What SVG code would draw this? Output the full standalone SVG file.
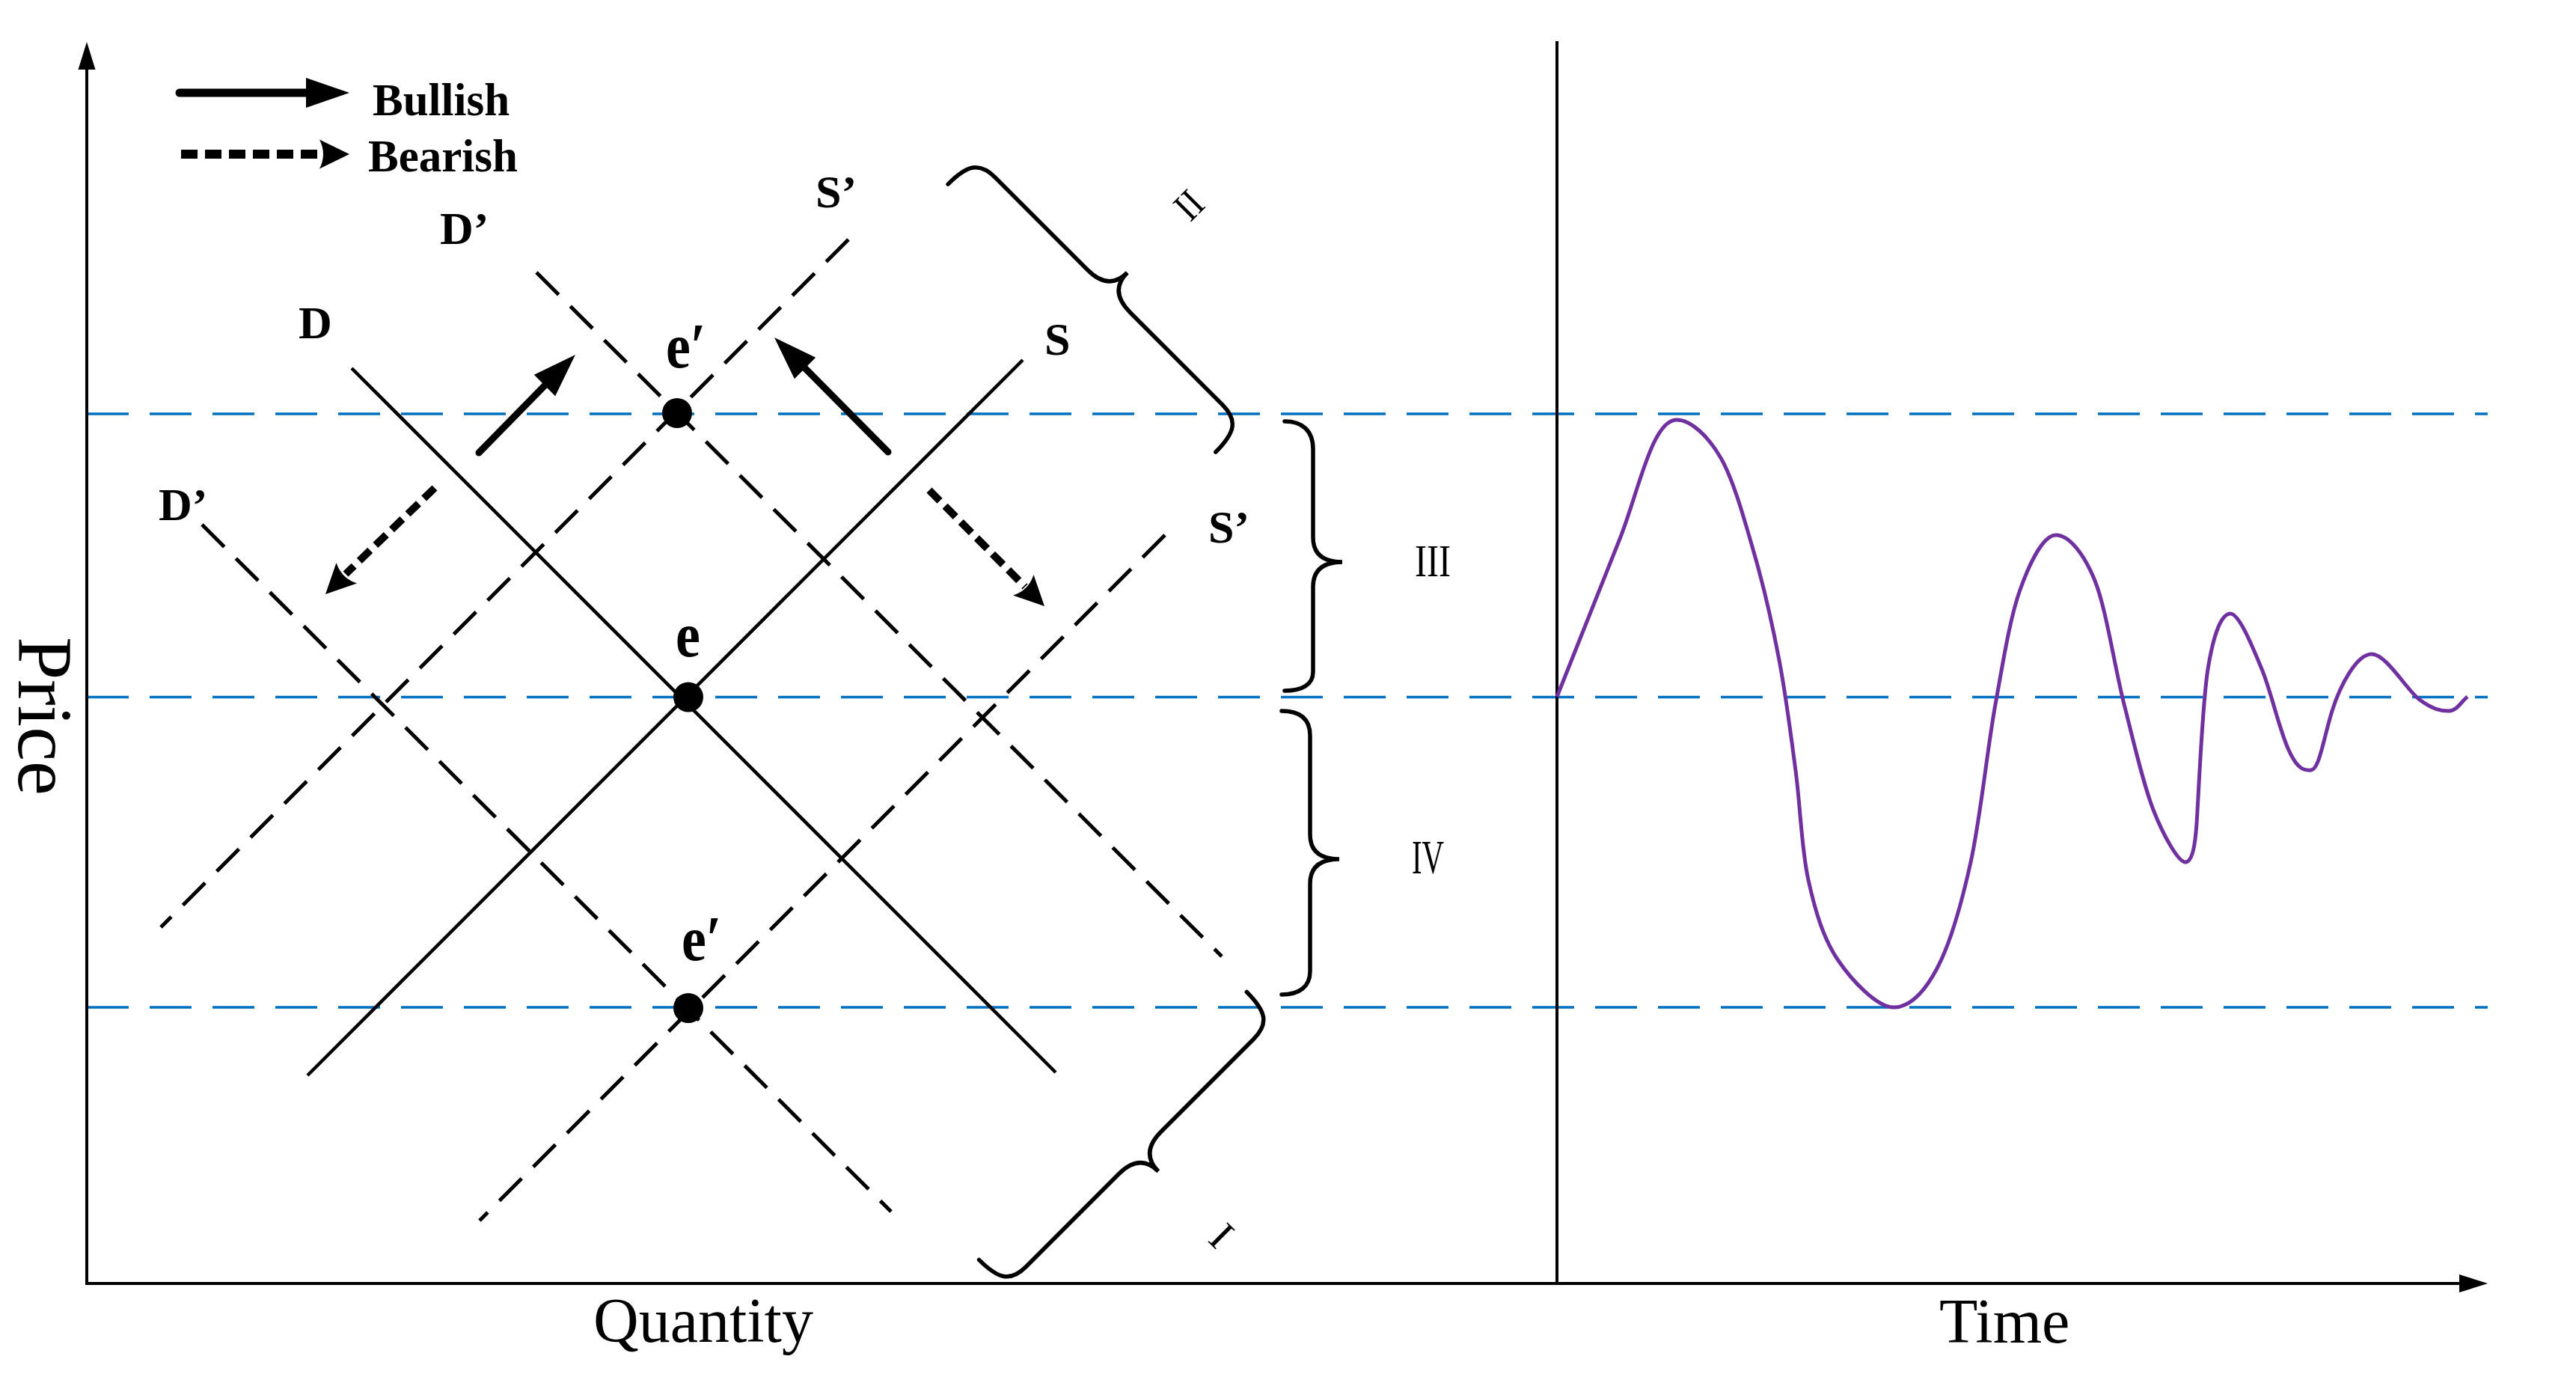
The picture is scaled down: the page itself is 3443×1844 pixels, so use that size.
<svg xmlns="http://www.w3.org/2000/svg" xmlns:xlink="http://www.w3.org/1999/xlink" width="3443" height="1844" viewBox="0 0 3443 1844">
<style>
.ax{stroke:#000;stroke-width:4;fill:none}
.blue{stroke:#0070C0;stroke-width:3.5;stroke-dasharray:56 28;fill:none}
.sol{stroke:#000;stroke-width:4.5;fill:none}
.dsh{stroke:#000;stroke-width:5;stroke-dasharray:42 22;fill:none}
.brace{stroke:#000;stroke-width:5.5;fill:none;stroke-linecap:round}
.bull{stroke:#000;stroke-width:9;fill:none;stroke-linecap:round}
.bear{stroke:#000;stroke-width:10;stroke-dasharray:20 10;fill:none}
.lbl{font-family:"Liberation Serif","Times New Roman",serif;font-weight:bold;font-size:62px;fill:#000}
.ee{font-family:"Liberation Serif","Times New Roman",serif;font-weight:bold;font-size:74px;fill:#000}
.rom{font-family:"Liberation Serif","Times New Roman",serif;font-size:60px;fill:#000}
.axl{font-family:"Liberation Serif","Times New Roman",serif;font-size:84px;fill:#000}
.curve{stroke:#7030A0;stroke-width:5;fill:none;stroke-linejoin:round}
</style>
<defs>
<path id="hd" d="M0,0 L-58,-20 L-58,20 Z" fill="#000"/>
<path id="hdc" d="M0,0 L-40,-19.5 Q-30,0 -40,19.5 Z" fill="#000"/>
</defs>
<rect width="3443" height="1844" fill="#fff"/>

<g id="levels">
<line class="blue" x1="116" y1="553" x2="3325" y2="553"/>
<line class="blue" x1="116" y1="931.5" x2="3325" y2="931.5"/>
<line class="blue" x1="116" y1="1346" x2="3325" y2="1346"/>
</g>

<g id="axes">
<line class="ax" x1="116" y1="1717" x2="116" y2="88"/>
<polygon points="116,56 104.5,93 127.5,93" fill="#000"/>
<line class="ax" x1="114" y1="1715" x2="3292" y2="1715"/>
<polygon points="3325,1715 3287,1703 3287,1727" fill="#000"/>
<line class="ax" x1="2081" y1="55" x2="2081" y2="1715"/>
<text class="axl" transform="translate(25,851) rotate(90)" style="font-size:103px">Price</text>
<text class="axl" x="793" y="1793">Quantity</text>
<text class="axl" x="2592" y="1794">Time</text>
</g>

<g id="legend">
<line class="bull" x1="240" y1="124" x2="412" y2="124" style="stroke-width:11"/>
<use xlink:href="#hd" transform="translate(467,124)"/>
<text class="lbl" x="498" y="154" style="font-size:61px">Bullish</text>
<line class="bear" x1="242" y1="206" x2="430" y2="206" style="stroke-width:12;stroke-dasharray:22 10"/>
<use xlink:href="#hdc" transform="translate(467,206)"/>
<text class="lbl" x="492" y="229" style="font-size:61px">Bearish</text>
</g>

<g id="curves">
<line class="sol" x1="470" y1="492" x2="1411" y2="1433"/>
<line class="sol" x1="411" y1="1437" x2="1367" y2="481"/>
<line class="dsh" x1="717" y1="364" x2="1633" y2="1278"/>
<line class="dsh" x1="1134" y1="320" x2="215" y2="1239"/>
<line class="dsh" x1="270" y1="701" x2="1191" y2="1619"/>
<line class="dsh" x1="1557" y1="715" x2="641" y2="1631"/>
</g>

<g id="curve-labels">
<text class="lbl" x="399" y="452">D</text>
<text class="lbl" x="588" y="326">D’</text>
<text class="lbl" x="212" y="695">D’</text>
<text class="lbl" x="1090" y="277">S’</text>
<text class="lbl" x="1396" y="474">S</text>
<text class="lbl" x="1615" y="725">S’</text>
</g>

<g id="shift-arrows">
<line class="bull" x1="640" y1="605" x2="735" y2="508"/>
<use xlink:href="#hd" transform="translate(769,474) rotate(-45)"/>
<line class="bull" x1="1187" y1="604" x2="1071" y2="487"/>
<use xlink:href="#hd" transform="translate(1035,451) rotate(-135)"/>
<line class="bear" x1="581" y1="652" x2="462" y2="767"/>
<use xlink:href="#hdc" transform="translate(435,794) rotate(135)"/>
<line class="bear" x1="1242" y1="655" x2="1370" y2="784"/>
<use xlink:href="#hdc" transform="translate(1396,810) rotate(45)"/>
</g>

<g id="equilibria">
<circle cx="905" cy="552" r="20" fill="#000"/>
<circle cx="920" cy="931.5" r="20" fill="#000"/>
<circle cx="920" cy="1347" r="20" fill="#000"/>
<text class="ee" transform="translate(890,491) scale(1,1.15)">e′</text>
<text class="ee" transform="translate(903,877) scale(1,1.15)">e</text>
<text class="ee" transform="translate(911,1283) scale(1,1.15)">e′</text>
</g>

<g id="brace-II">
<path class="brace" transform="translate(1482,389) rotate(45)" d="M-253,51 C-253,15 -245,0 -215,0 L-40,0 Q0,0 0,-35 Q0,0 40,0 L215,0 C245,0 253,15 253,51"/>
<text class="rom" transform="translate(1589,274) rotate(-45)" text-anchor="middle" y="18" textLength="31" lengthAdjust="spacingAndGlyphs" style="font-size:54px">II</text>
</g>
<g id="brace-III">
<path class="brace" d="M1717,563 C1740,563 1755,575 1755,600 L1755,718 C1755,740 1768,751 1794,751 C1768,751 1755,762 1755,784 L1755,898 C1755,915 1740,923 1717,923"/>
<text class="rom" x="1891" y="770" textLength="48" lengthAdjust="spacingAndGlyphs" style="font-size:62px">III</text>
</g>
<g id="brace-IV">
<path class="brace" d="M1713,950 C1737,950 1751,960 1751,983 L1751,1115 C1751,1137 1764,1148 1790,1148 C1764,1148 1751,1159 1751,1181 L1751,1298 C1751,1318 1737,1329 1713,1329"/>
<text class="rom" x="1887" y="1167" textLength="43" lengthAdjust="spacingAndGlyphs" style="font-size:64px">IV</text>
</g>
<g id="brace-I">
<path class="brace" transform="translate(1523.5,1540.5) rotate(135)" d="M-253,51 C-253,15 -245,0 -215,0 L-40,0 Q0,0 0,-35 Q0,0 40,0 L215,0 C245,0 253,15 253,51"/>
<text class="rom" transform="translate(1633,1651) rotate(45)" text-anchor="middle" y="19" style="font-size:56px">I</text>
</g>

<g id="price-path">
<path class="curve" d="M2081,931 L2165,720 C2190,657 2208,561 2241,561 C2259.5,561 2282.7,582 2300,612 C2317.3,642 2332,696 2345,741 C2358,786 2368.8,833.8 2378,882 C2387.2,930.2 2393.5,981 2400,1030 C2406.5,1079 2407.7,1134 2417,1176 C2426.3,1218 2437,1253.7 2456,1282 C2475,1310.3 2508.8,1346 2531,1346 C2553.2,1346 2571.8,1326.3 2589,1294 C2606.2,1261.7 2621,1210.8 2634,1152 C2647,1093.2 2656,1001.7 2667,941 C2678,880.3 2686.5,825.7 2700,788 C2713.5,750.3 2731.3,715 2748,715 C2764.7,715 2784.8,738.3 2800,776 C2815.2,813.7 2826,890 2839,941 C2852,992 2864.3,1046.8 2878,1082 C2891.7,1117.2 2911.7,1152 2921,1152 C2927.7,1152 2933.3,1140 2936,1100 C2938.7,1060 2943.5,940.7 2951,894 C2958.5,847.3 2969,820 2981,820 C2993,820 3010.5,864 3023,894 C3035.5,924 3045,970 3058,1000 C3070,1028 3080,1030 3089,1029 C3100,1028 3106,985 3117,950 C3128,915 3150,874 3170,874 C3189.5,874 3216.8,922.3 3234,935 C3251.2,947.7 3262.3,950 3273,950 C3283.7,950 3289.7,937.3 3298,931"/>
</g>
</svg>
